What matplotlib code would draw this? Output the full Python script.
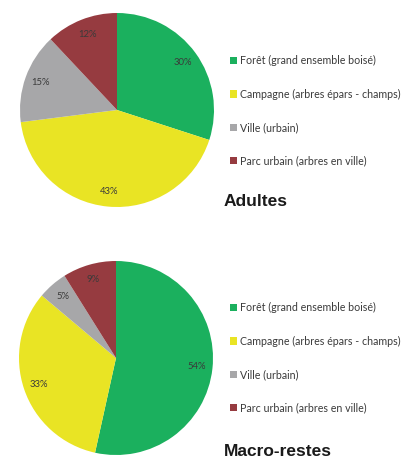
import numpy as np
import matplotlib
matplotlib.use('Agg')
import matplotlib.pyplot as plt

# data
labels = ['Forêt (grand ensemble boisé)', 'Campagne (arbres épars - champs)',
          'Ville (urbain)', 'Parc urbain (arbres en ville)']
adultes = [30, 43, 15, 12]
macro = [54, 33, 5, 9]
colors = ['#1bb05e', '#e9e424', '#a7a7a9', '#963b40']

W, H = 409, 459
fig = plt.figure(figsize=(W/100, H/100), dpi=100)
fig.patch.set_facecolor('white')

def draw(vals, cx, cy, r, title, leg_y, title_y):
    ax = fig.add_axes([(cx - r)/W, 1 - (cy + r)/H, 2*r/W, 2*r/H])
    wedges, texts = ax.pie(vals, colors=colors, startangle=90, counterclock=False,
                           labels=['%d%%' % v for v in vals], labeldistance=0.84,
                           radius=1, wedgeprops=dict(linewidth=0),
                           textprops=dict(fontsize=6.8, color='#3a3a3a', family='Lato',
                                          ha='center', va='center'))
    ax.set_xlim(-1, 1); ax.set_ylim(-1, 1)
    ax.set_aspect('equal')
    ax.axis('off')
    fig.legend(wedges, labels, loc='upper left', bbox_to_anchor=(230/W, 1 - leg_y/H),
               frameon=False, handlelength=0.7, handleheight=0.7, handletextpad=0.2,
               labelspacing=2.1, borderaxespad=0, borderpad=0,
               prop=dict(family='Lato', size=7.7), labelcolor='#3a3a3a')
    fig.text(224/W, 1 - title_y/H, title, fontsize=12.5, fontweight='bold',
             family='Liberation Sans', color='#1a1a1a', va='center', ha='left')

draw(adultes, 117, 110, 97, 'Adultes', 55, 201)
draw(macro, 116, 358, 97, 'Macro-restes', 302, 452)

fig.savefig('out.png', dpi=100, facecolor='white')
